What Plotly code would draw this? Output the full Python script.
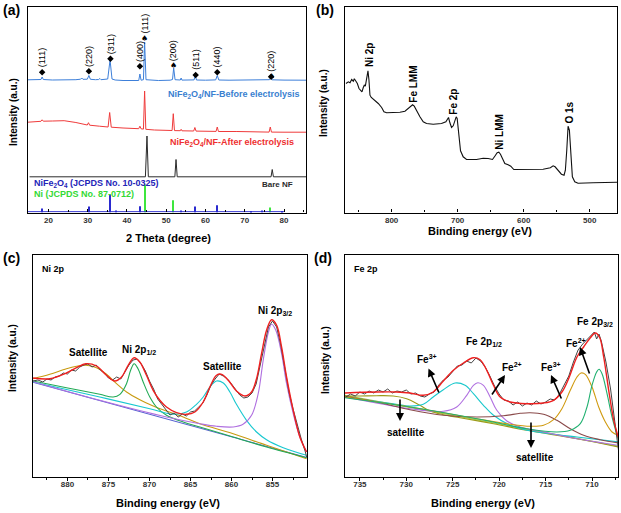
import plotly.graph_objects as go

W, H = 621, 513
FONT = "Liberation Sans"

# ---------------- (a) XRD ----------------
before_x = [14.8, 16, 17.5, 18.1, 18.4, 18.7, 21, 24, 27, 28.2, 28.5, 28.8, 29.9, 30.3, 30.7, 32, 32.8, 33.1, 33.4,
            35.1, 35.7, 36.2, 37, 39, 41, 43, 43.3, 43.6, 44.2, 44.5, 44.85, 46, 48, 51, 51.6, 51.9, 52.25, 53.6,
            53.8, 54.0, 56, 57.1, 57.4, 57.7, 60, 62.6, 63.0, 63.4, 66, 70, 74, 76.3, 76.6, 76.9, 80, 85.6]
before_y = [132.7, 133, 132.8, 133, 135.5, 133, 132.5, 132.3, 132.8, 133.3, 134.5, 133.2, 133.3, 137, 133.2, 132.8,
            133, 134, 132.8, 133.5, 152.5, 133.5, 132.5, 132, 131.8, 132, 138.5, 132.3, 132.8, 170.5, 132.8, 132.3,
            132, 132.3, 133, 144.5, 132.8, 132.5, 134.5, 132.4, 132.2, 132.6, 137.5, 132.5, 132.3, 132.6, 137,
            132.5, 132.3, 132.4, 132.5, 132.8, 134.8, 132.7, 132.4, 132.3]
after_x = [14.8, 17, 18.1, 18.4, 18.7, 21, 24, 27, 29.9, 30.2, 30.5, 33, 35.2, 35.6, 36, 39, 43.0, 43.3, 43.6, 44.2,
           44.5, 44.8, 47, 51.5, 51.8, 52.1, 53.6, 53.8, 54.0, 57.0, 57.3, 57.6, 60, 62.7, 63.0, 63.3, 68, 72, 76.2,
           76.5, 76.8, 80, 85.6]
after_y = [90.3, 91, 91.2, 92.7, 91.3, 91.5, 91.8, 90, 87.5, 89.8, 87.3, 86.3, 85.5, 100, 85.3, 84.5, 83.8, 86.3,
           83.7, 83.4, 121.5, 83.2, 82.5, 82, 98.8, 81.9, 81.8, 83.2, 81.7, 81.5, 85, 81.4, 81.2, 81.1, 85.5, 81,
           81, 80.6, 80.4, 85.5, 80.4, 80.3, 80.3]
bare_x = [15.2, 44.7, 45.1, 45.45, 52.2, 52.5, 52.8, 76.7, 77.0, 77.3, 85.6]
bare_y = [35.7, 35.7, 76.5, 35.7, 35.7, 53, 35.7, 35.7, 43, 35.7, 35.7]

jcpds_nife_pos = [18.4, 30.3, 35.6, 37.2, 43.3, 53.8, 57.3, 62.9, 71.5, 74.5, 79.6]
jcpds_nife_int = [4, 6, 18, 2, 6.3, 2, 6, 7.3, 1.5, 2, 1.5]
jcpds_ni_pos = [44.5, 51.8, 76.4]
jcpds_ni_int = [28, 12.3, 5]

hkl_x = [18.4, 30.3, 35.8, 43.3, 44.5, 51.9, 57.5, 63.0, 76.7]
hkl_y = [140.3, 141.3, 153.7, 146.3, 173.7, 147, 137.5, 140.3, 135.7]
hkl_lab = ["(111)", "(220)", "(311)", "(400)", "(111)", "(200)", "(511)", "(440)", "(220)"]
hkl_kind = ["d", "d", "d", "d", "s", "s", "d", "d", "ds"]

# ---------------- (b) survey ----------------
surv_x = [869.1, 865.6, 863.0, 860.5, 858.0, 856.5, 854.5, 851.9, 849.4, 846.9, 844.9, 842.9, 841.4, 839.8, 838.3,
          836.8, 835.8, 834.3, 832.8, 830.8, 825.2, 820.2, 815.1, 811.6, 807.6, 797.5, 787.4, 779.8, 774.8, 770.8,
          768.2, 765.7, 762.2, 757.1, 752.1, 747.1, 737.0, 724.4, 717.8, 715.3, 713.8, 711.7, 709.2, 706.7, 704.2,
          702.2, 700.7, 699.1, 697.6, 695.6, 691.6, 686.5, 671.4, 661.3, 653.8, 647.2, 643.7, 640.1, 637.6, 635.1,
          632.1, 628.5, 623.5, 619.5, 614.9, 600.8, 570.5, 559.5, 555.4, 552.4, 547.9, 542.8, 538.8, 536.8, 534.7,
          532.7, 530.7, 528.7, 526.2, 522.6, 517.6, 494.9, 469.7, 458.6]
surv_y = [129.0, 130.7, 129.7, 133.0, 131.3, 133.7, 131.7, 129.0, 124.0, 121.7, 120.7, 125.0, 127.3, 126.3, 132.3,
          141.0, 141.7, 132.3, 117.3, 115.0, 112.3, 109.0, 105.0, 100.7, 99.7, 100.0, 100.3, 101.3, 103.7, 106.3,
          107.7, 106.3, 101.7, 95.7, 90.7, 89.0, 88.3, 89.0, 90.7, 94.0, 95.0, 89.7, 85.0, 86.7, 91.7, 95.7, 94.0,
          84.0, 70.7, 61.7, 55.7, 53.0, 53.0, 54.3, 54.0, 53.0, 56.3, 59.7, 60.3, 58.3, 54.0, 49.0, 47.7, 46.3,
          43.0, 43.0, 43.3, 44.7, 46.7, 45.7, 41.7, 38.3, 37.3, 42.3, 62.3, 86.3, 82.3, 55.7, 35.7, 30.7, 29.3,
          29.7, 30.0, 30.3]
surv_lab = ["Ni 2p", "Fe LMM", "Fe 2p", "Ni LMM", "O 1s"]

# ---------------- (c) Ni 2p ----------------
ni_exp_x = [884.2, 883.6, 883.0, 882.5, 882.0, 881.5, 881.0, 880.5, 880.0, 879.5, 879.0, 878.5, 878.0, 877.5, 877.0,
            876.5, 876.0, 875.5, 875.0, 874.5, 874.0, 873.5, 873.0, 872.5, 872.0, 871.5, 871.0, 870.5, 870.0, 869.5,
            869.0, 868.5, 868.0, 867.5, 867.0, 866.5, 866.0, 865.5, 865.0, 864.5, 864.0, 863.5, 863.0, 862.5, 862.0,
            861.5, 861.0, 860.5, 860.0, 859.5, 859.0, 858.5, 858.0, 857.5, 857.0, 856.5, 856.0, 855.5, 855.0, 854.5,
            854.0, 853.5, 853.0, 852.5, 852.0, 851.5, 851.0, 850.85]
ni_exp_y = [96, 97, 95, 98, 97, 100, 101, 104, 103, 107, 106, 110, 112, 113, 110, 112, 107, 104, 99, 97, 100, 98,
            105, 112, 117, 118, 113, 106, 96, 88, 78, 73, 68, 62, 64, 60, 63, 61, 65, 66, 70, 74, 82, 92, 98, 103,
            101, 98, 93, 88, 82, 79, 80, 84, 93, 112, 132, 150, 156, 150, 132, 108, 85, 68, 52, 38, 25, 20]
ni_fit_x = [884.19, 882.15, 880.12, 878.9, 877.76, 876.46, 875.24, 874.23, 873.4, 872.6, 871.87, 871.18, 870.37,
            869.55, 868.74, 867.93, 866.7, 865.49, 864.47, 863.45, 862.64, 861.83, 861.2, 860.4, 859.4, 858.37,
            857.56, 856.95, 856.34, 855.73, 855.12, 854.5, 853.9, 853.29, 852.48, 851.67, 850.85]
ni_fit_y = [99.0, 98.3, 104.0, 109.3, 113.3, 111.0, 101.7, 96.0, 100.0, 111.7, 119.3, 115.0, 101.7, 86.7, 76.7,
            70.0, 64.3, 62.7, 65.0, 75.0, 90.0, 101.7, 102.7, 96.7, 86.0, 81.0, 85.0, 98.3, 123.3, 146.7, 157.3,
            151.7, 130.0, 100.0, 66.7, 40.0, 25.0]
ni_sat1_x = [884.19, 882.15, 880.12, 878.9, 877.76, 876.46, 875.24, 874.02, 872.80, 871.18, 869.55, 867.93, 865.89,
             863.86, 859.80, 855.73, 850.85]
ni_sat1_y = [98.3, 102.7, 108.3, 110.7, 111.7, 109.3, 102.7, 93.3, 85.0, 77.3, 71.0, 66.0, 60.0, 53.3, 43.3, 31.7,
             18.3]
ni_p12_x = [884.19, 880.12, 876.06, 874.43, 873.6, 872.80, 872.3, 871.87, 871.4, 870.77, 869.96, 869.15, 867.93,
            865.89, 863.86, 859.80, 855.73, 850.85]
ni_p12_y = [96.0, 89.3, 82.7, 80.0, 82.7, 93.3, 106.7, 113.3, 108.3, 95.0, 80.0, 70.0, 61.7, 55.0, 50.0, 40.0, 30.0,
            19.3]
ni_sat2_x = [884.19, 876.06, 869.96, 867.11, 865.49, 864.27, 863.45, 862.64, 861.83, 861.0, 860.2, 859.4, 858.17,
             856.95, 855.73, 853.70, 850.85]
ni_sat2_y = [95.0, 80.0, 68.3, 62.7, 65.0, 72.7, 80.0, 90.0, 96.0, 94.0, 85.0, 72.7, 56.7, 45.0, 37.3, 29.3, 21.7]
ni_p32_x = [884.19, 876.06, 867.93, 863.86, 861.83, 859.80, 858.6, 857.56, 856.75, 856.14, 855.5, 855.12, 854.6,
            853.9, 853.29, 852.48, 851.67, 850.85]
ni_p32_y = [95.3, 76.7, 60.0, 53.3, 50.7, 50.0, 52.7, 61.7, 83.3, 116.7, 145.0, 152.7, 146.7, 123.3, 93.3, 63.3,
            40.0, 25.0]
ni_bg_x = [884.2, 850.8]
ni_bg_y = [94.7, 19.5]

# ---------------- (d) Fe 2p ----------------
fe_exp_x = [736.5, 736.0, 735.5, 735.0, 734.5, 734.0, 733.5, 733.0, 732.5, 732.0, 731.5, 731.0, 730.5, 730.0, 729.5,
            729.0, 728.5, 728.0, 727.5, 727.0, 726.5, 726.0, 725.5, 725.0, 724.5, 724.0, 723.5, 723.0, 722.5, 722.0,
            721.5, 721.0, 720.5, 720.0, 719.5, 719.0, 718.5, 718.0, 717.5, 717.0, 716.5, 716.0, 715.5, 715.0, 714.5,
            714.0, 713.5, 713.0, 712.5, 712.0, 711.5, 711.0, 710.5, 710.0, 709.75, 709.5, 709.25, 709.0, 708.5,
            708.0, 707.6, 707.3, 707.15]
fe_exp_y = [80, 83, 81, 85, 83, 86, 84, 87, 85, 88, 84, 86, 85, 87, 83, 84, 81, 80, 83, 85, 92, 97, 100, 106, 111,
            112, 116, 114, 119, 116, 110, 101, 91, 83, 77, 76, 72, 75, 71, 74, 72, 76, 73, 75, 78, 77, 83, 92, 101,
            115, 127, 133, 138, 142, 145, 138, 143, 136, 115, 88, 60, 35, 27]
fe_fit_x = [736.62, 733.20, 731.04, 729.60, 728.17, 727.1, 726.01, 724.93, 723.85, 722.77, 722.05, 721.33, 720.61,
            719.89, 718.81, 717.01, 715.22, 714.14, 713.24, 712.52, 711.62, 710.90, 710.18, 709.64, 709.17, 708.74,
            708.20, 707.66, 707.12]
fe_fit_y = [84.0, 85.0, 85.0, 84.0, 81.7, 85.0, 96.0, 106.7, 114.0, 119.3, 117.3, 106.7, 91.7, 80.0, 75.0, 73.3,
            74.0, 76.7, 85.0, 98.3, 120.0, 130.0, 139.3, 144.0, 139.3, 120.0, 86.7, 56.7, 38.3]
fe_sat1_x = [736.62, 735.0, 733.20, 731.40, 729.96, 728.53, 727.45, 726.01, 724.21, 720.61, 717.01, 711.62, 707.12]
fe_sat1_y = [81.0, 81.0, 81.3, 81.0, 78.3, 71.7, 66.0, 62.3, 59.3, 53.3, 46.7, 38.3, 30.0]
fe_3a_x = [736.62, 731.40, 729.60, 728.17, 727.1, 726.01, 724.75, 723.67, 722.77, 721.69, 720.61, 718.81, 717.01,
           714.50, 711.62, 707.12]
fe_3a_y = [80.0, 73.3, 71.0, 72.7, 80.0, 87.3, 94.0, 91.7, 83.3, 71.7, 61.7, 51.7, 46.7, 43.3, 40.0, 35.0]
fe_2a_x = [736.62, 729.60, 726.01, 724.57, 723.49, 722.77, 722.30, 721.69, 720.97, 720.25, 719.17, 717.73, 715.22,
           711.62, 707.12]
fe_2a_y = [80.0, 68.3, 65.7, 70.0, 81.7, 91.7, 94.3, 91.7, 80.0, 66.7, 56.0, 50.0, 45.0, 38.3, 31.7]
fe_sat2_x = [736.62, 733.20, 729.60, 726.01, 722.41, 719.53, 717.73, 716.65, 715.22, 713.78, 712.34, 710.90, 709.10,
             707.12]
fe_sat2_y = [80.7, 75.0, 67.3, 61.7, 60.0, 61.3, 63.7, 64.3, 62.7, 56.7, 48.3, 41.7, 37.3, 34.0]
fe_3b_x = [736.62, 729.60, 722.41, 718.81, 716.65, 715.22, 714.14, 713.24, 712.34, 711.62, 711.19, 710.72, 710.0,
           709.28, 708.56, 707.84, 707.12]
fe_3b_y = [80.0, 70.0, 58.3, 52.7, 50.7, 51.7, 57.3, 68.3, 86.7, 100.0, 104.0, 102.7, 90.0, 70.0, 55.0, 45.0, 41.7]
fe_2b_x = [736.62, 729.60, 722.41, 717.01, 713.78, 712.34, 711.26, 710.54, 710.0, 709.5, 709.24, 708.92, 708.38,
           707.84, 707.12]
fe_2b_y = [79.3, 70.0, 58.3, 48.3, 45.0, 46.7, 53.3, 70.0, 91.7, 105.0, 107.7, 103.3, 83.3, 60.0, 36.0]
fe_bg_x = [736.62, 707.12]
fe_bg_y = [81.7, 30.7]

fig = go.Figure()


def line(x, y, color, ax, width=1.1, shape="linear"):
    fig.add_trace(go.Scatter(x=x, y=y, mode="lines", line=dict(color=color, width=width, shape=shape),
                             xaxis=ax[0], yaxis=ax[1], showlegend=False, hoverinfo="skip"))


A, B, C, D = ("x", "y"), ("x2", "y2"), ("x3", "y3"), ("x4", "y4")

# (a)
line([14.8, 80], [0.8, 0.8], "#2a2acf", A, 1)
fig.add_trace(go.Bar(x=jcpds_nife_pos, y=jcpds_nife_int, width=0.28, marker=dict(color="#2a2acf", line_width=0),
                     xaxis="x", yaxis="y", showlegend=False, hoverinfo="skip"))
fig.add_trace(go.Bar(x=jcpds_ni_pos, y=jcpds_ni_int, width=0.28, marker=dict(color="#3ee63e", line_width=0),
                     xaxis="x", yaxis="y", showlegend=False, hoverinfo="skip"))
line(bare_x, bare_y, "#2b2b2b", A, 1)
line(after_x, after_y, "#ef3b3b", A, 1)
line(before_x, before_y, "#3d7fd9", A, 1)
dx = [x for x, k in zip(hkl_x, hkl_kind) if "d" in k]
dy = [y for y, k in zip(hkl_y, hkl_kind) if "d" in k]
fig.add_trace(go.Scatter(x=dx, y=dy, mode="markers", marker=dict(symbol="diamond", size=5, color="black"),
                         xaxis="x", yaxis="y", showlegend=False, hoverinfo="skip"))

# (b)
line(surv_x, surv_y, "#111111", B, 1.1)

# (c)
line(ni_bg_x, ni_bg_y, "#5560d0", C, 1.1)
line(ni_sat1_x, ni_sat1_y, "#c89a10", C, 1.1, "spline")
line(ni_p12_x, ni_p12_y, "#22aa55", C, 1.1, "spline")
line(ni_sat2_x, ni_sat2_y, "#18c8d0", C, 1.1, "spline")
line(ni_p32_x, ni_p32_y, "#b070e0", C, 1.1, "spline")
line(ni_exp_x, ni_exp_y, "#444444", C, 1.0)
line(ni_fit_x, ni_fit_y, "#ee2020", C, 1.4, "spline")

# (d)
line(fe_bg_x, fe_bg_y, "#99cc44", D, 1.1)
line(fe_sat1_x, fe_sat1_y, "#9c9a18", D, 1.1, "spline")
line(fe_3a_x, fe_3a_y, "#1ac8cc", D, 1.1, "spline")
line(fe_2a_x, fe_2a_y, "#b070e0", D, 1.1, "spline")
line(fe_sat2_x, fe_sat2_y, "#8a4a4a", D, 1.1, "spline")
line(fe_3b_x, fe_3b_y, "#d09a10", D, 1.1, "spline")
line(fe_2b_x, fe_2b_y, "#20b070", D, 1.1, "spline")
line(fe_exp_x, fe_exp_y, "#444444", D, 1.0)
line(fe_fit_x, fe_fit_y, "#ee2020", D, 1.4, "spline")


def P(px, py):
    return px / W, 1 - py / H


ann = []


def txt(px, py, text, size=10, color="black", bold=True, angle=0, xanchor="center"):
    x, y = P(px, py)
    t = f"<b>{text}</b>" if bold else text
    ann.append(dict(x=x, y=y, xref="paper", yref="paper", text=t, showarrow=False, textangle=angle,
                    font=dict(family=FONT, size=size, color=color), xanchor=xanchor, yanchor="middle"))


def arrow(hx, hy, tx, ty):
    x, y = P(hx, hy)
    ann.append(dict(x=x, y=y, xref="paper", yref="paper", ax=tx - hx, ay=ty - hy, text="", showarrow=True,
                    arrowhead=2, arrowsize=1, arrowwidth=1.6, arrowcolor="black",
                    font=dict(family=FONT, size=10)))


# panel letters
txt(1, 10, "(a)", 14, xanchor="left")
txt(314, 10, "(b)", 14, xanchor="left")
txt(1, 258, "(c)", 14, xanchor="left")
txt(312, 258, "(d)", 14, xanchor="left")

# axis titles
txt(168, 238, "2 Theta (degree)", 11)
txt(13, 112, "Intensity (a.u.)", 10, angle=-90)
txt(480, 231, "Binding energy (eV)", 11)
txt(324, 103, "Intensity (a.u.)", 10, angle=-90)
txt(168, 503, "Binding energy (eV)", 11)
txt(12, 358, "Intensity (a.u.)", 10, angle=-90)
txt(483, 503, "Binding energy (eV)", 11)
txt(325, 360, "Intensity (a.u.)", 10, angle=-90)

# (a) labels
txt(302, 95, "NiFe<sub>2</sub>O<sub>4</sub>/NF-Before electrolysis", 9, "#3a80d0", xanchor="right")
txt(296, 142, "NiFe<sub>2</sub>O<sub>4</sub>/NF-After electrolysis", 9, "#ee3030", xanchor="right")
txt(295, 184, "Bare NF", 8, "#2b2b2b", xanchor="right")
txt(32, 183.5, "NiFe<sub>2</sub>O<sub>4</sub> (JCPDS No. 10-0325)", 9, "#2424b8", xanchor="left")
txt(32, 193.5, "Ni (JCPDS No. 87-0712)", 9, "#34d934", xanchor="left")
for x, y, lab, k in zip(hkl_x, hkl_y, hkl_lab, hkl_kind):
    ann.append(dict(x=x, y=y, xref="x", yref="y", text=lab, showarrow=False, textangle=-90, yshift=15,
                    font=dict(family=FONT, size=9, color="black"), xanchor="center", yanchor="middle"))
    if "s" in k:
        ann.append(dict(x=x, y=y, xref="x", yref="y", text="♠", showarrow=False,
                        font=dict(family="DejaVu Sans", size=8, color="black"), xanchor="center", yanchor="middle"))

# (b) labels
for (px, py), lab in zip([(370, 55), (412.7, 84), (454, 101.7), (500, 131.7), (569, 112.5)], surv_lab):
    txt(px, py, lab, 10, angle=-90)

# (c) labels
txt(40, 269, "Ni 2p", 9, xanchor="left")
txt(88, 352, "Satellite", 10)
txt(139, 350, "Ni 2p<sub>1/2</sub>", 10)
txt(222, 366, "Satellite", 10)
txt(275, 311, "Ni 2p<sub>3/2</sub>", 10)

# (d) labels
txt(352, 269, "Fe 2p", 9, xanchor="left")
txt(483.5, 342, "Fe 2p<sub>1/2</sub>", 10)
txt(595, 322, "Fe 2p<sub>3/2</sub>", 10)
txt(427, 359, "Fe<sup>3+</sup>", 10)
txt(512, 367, "Fe<sup>2+</sup>", 10)
txt(551, 367, "Fe<sup>3+</sup>", 10)
txt(576, 343, "Fe<sup>2+</sup>", 10)
txt(406, 432, "satellite", 10)
txt(535, 457, "satellite", 10)
arrow(428.5, 368.5, 439.5, 394)
arrow(505, 375, 491, 396)
arrow(551, 375, 562, 400)
arrow(580, 347, 590, 375)
arrow(400, 421, 400, 398)
arrow(531, 448, 531, 421)

tickfont = dict(family=FONT, size=8, color="#333333", weight="bold")
base = dict(showline=True, linecolor="black", linewidth=1.2, mirror=True, showgrid=False, zeroline=False,
            tickfont=tickfont, tickcolor="black", ticklen=3, tickwidth=1)
yb = dict(showline=True, linecolor="black", linewidth=1.2, mirror=True, showgrid=False, zeroline=False,
          showticklabels=False, ticks="")

topA, botA = 7, 212.5
topC, botC = 255, 477
fig.update_layout(
    width=W, height=H, margin=dict(l=0, r=0, t=0, b=0), paper_bgcolor="white", plot_bgcolor="white",
    font=dict(family=FONT, size=10, color="black"),
    barmode="overlay", showlegend=False, annotations=ann,
    xaxis=dict(base, domain=[28 / W, 306 / W], range=[14.8, 85.6], anchor="y", dtick=10, tick0=0, ticks="inside",
               minor=dict(ticks="inside", ticklen=2, dtick=5, tick0=0, tickcolor="black")),
    yaxis=dict(yb, domain=[1 - botA / H, 1 - topA / H], range=[0, 205.5], anchor="x"),
    xaxis2=dict(base, domain=[345 / W, 617 / W], range=[870.6, 458.6], anchor="y2", dtick=100, tick0=0,
                ticks="inside", minor=dict(ticks="inside", ticklen=2, dtick=50, tick0=0, tickcolor="black")),
    yaxis2=dict(yb, domain=[1 - botA / H, 1 - topA / H], range=[0, 205.5], anchor="x2"),
    xaxis3=dict(base, domain=[33 / W, 307 / W], range=[884.2, 850.8], anchor="y3", dtick=5, tick0=0,
                ticks="outside", ticklabelstandoff=-4,
                minor=dict(ticks="outside", ticklen=2, dtick=2.5, tick0=0, tickcolor="black")),
    yaxis3=dict(yb, domain=[1 - botC / H, 1 - topC / H], range=[0, 222], anchor="x3"),
    xaxis4=dict(base, domain=[345 / W, 618 / W], range=[736.6, 707.2], anchor="y4", dtick=5, tick0=0,
                ticks="outside", ticklabelstandoff=-4,
                minor=dict(ticks="outside", ticklen=2, dtick=2.5, tick0=0, tickcolor="black")),
    yaxis4=dict(yb, domain=[1 - botC / H, 1 - topC / H], range=[0, 222], anchor="x4"),
)

fig.write_html("out.html", config={"displayModeBar": False},
               post_script="document.body.style.margin='0';document.body.style.overflow='hidden';")
